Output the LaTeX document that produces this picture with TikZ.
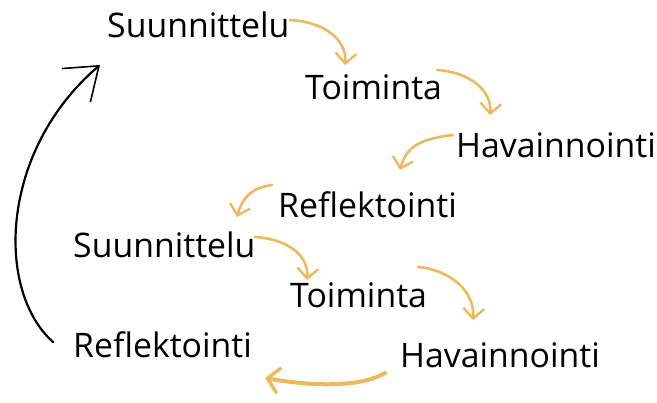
\documentclass[tikz,border=0pt]{standalone}
\usepackage{fontspec}
\setmainfont{Open Sans}
\usetikzlibrary{arrows.meta}
\definecolor{org}{HTML}{F0B85C}
\begin{document}
\begin{tikzpicture}[x=1pt,y=-1pt,
  lbl/.style={anchor=base west,inner sep=0pt,font=\fontsize{33.8}{38}\selectfont},
  oarr/.style={draw=org,line width=2.6pt,line cap=round,-{Straight Barb[length=10pt,width=21pt,line width=2.4pt]}},
  barr/.style={draw=black,line width=2.2pt,line cap=round,-{Straight Barb[length=30pt,width=44pt,line width=1.6pt]}}]
\useasboundingbox (0,0) rectangle (657,403);
\node[lbl] (s1) at (107,38) {Suunnittelu};
\node[lbl] (t1) at (305,100) {Toiminta};
\node[lbl] (h1) at (456,158) {Havainnointi};
\node[lbl] (r1) at (278,218) {Reflektointi};
\node[lbl] (s2) at (73,258) {Suunnittelu};
\node[lbl] (t2) at (290,308) {Toiminta};
\node[lbl] (h2) at (400,368) {Havainnointi};
\node[lbl] (r2) at (73,358) {Reflektointi};
% orange arrows
\draw[oarr] ([xshift=183pt,yshift=18pt]s1.base west) .. controls +(35,2) and +(2,-25) .. ([xshift=40pt,yshift=35pt]t1.base west);
\draw[oarr] ([xshift=132pt,yshift=30pt]t1.base west) .. controls +(32,2) and +(2,-25) .. ([xshift=34pt,yshift=43pt]h1.base west);
\draw[oarr] ([xshift=-3pt,yshift=23pt]h1.base west) .. controls +(-35,4) and +(6,-22) .. ([xshift=122pt,yshift=48pt]r1.base west);
\draw[oarr] ([xshift=-6pt,yshift=33pt]r1.base west) .. controls +(-22,3) and +(5,-18) .. ([xshift=164pt,yshift=41pt]s2.base west);
\draw[oarr] ([xshift=182pt,yshift=21pt]s2.base west) .. controls +(32,2) and +(2,-25) .. ([xshift=17pt,yshift=28pt]t2.base west);
\draw[oarr] ([xshift=128pt,yshift=41pt]t2.base west) .. controls +(33,3) and +(2,-28) .. ([xshift=73pt,yshift=48pt]h2.base west);
\draw[draw=org,line width=4pt,line cap=round,-{Straight Barb[length=12pt,width=26pt,line width=3.4pt]}] ([xshift=-15pt,yshift=-5pt]h2.base west) .. controls +(-25,15) and +(45,8) .. ([xshift=192pt,yshift=-20pt]r2.base west);
% black arrow
\draw[barr] ([xshift=-20pt,yshift=16pt]r2.base west) .. controls +(-58,-52) and +(-100,85) .. ([xshift=-7pt,yshift=-27pt]s1.base west);
\end{tikzpicture}
\end{document}
